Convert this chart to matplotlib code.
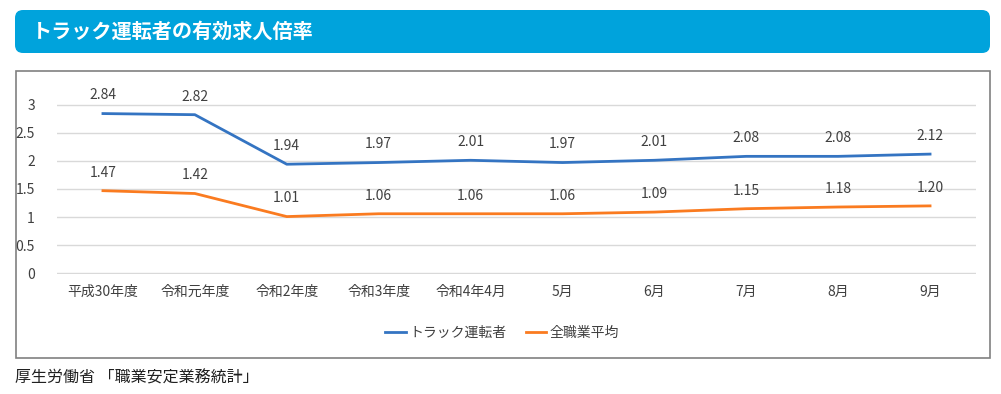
import matplotlib
matplotlib.use('Agg')
import matplotlib.pyplot as plt
from matplotlib.patches import FancyBboxPatch, Rectangle

plt.rcParams['font.family'] = ['Noto Sans CJK JP', 'DejaVu Sans']

# data
categories = ['平成30年度', '令和元年度', '令和2年度', '令和3年度', '令和4年4月',
              '5月', '6月', '7月', '8月', '9月']
truck = [2.84, 2.82, 1.94, 1.97, 2.01, 1.97, 2.01, 2.08, 2.08, 2.12]
all_jobs = [1.47, 1.42, 1.01, 1.06, 1.06, 1.06, 1.09, 1.15, 1.18, 1.20]
yticks = [0, 0.5, 1, 1.5, 2, 2.5, 3]
ytick_labels = ['0', '0.5', '1', '1.5', '2', '2.5', '3']

W, H = 1001, 394
fig = plt.figure(figsize=(W/100, H/100), dpi=100)

# title banner
banner = FancyBboxPatch((15/W, 1-53/H), 975/W, 43/H,
                        boxstyle='round,pad=0,rounding_size=0.008',
                        transform=fig.transFigure, facecolor='#00A3DC',
                        edgecolor='none', mutation_aspect=W/H, zorder=-1)
fig.patches.append(banner)
fig.text(32/W, 1-31/H, 'トラック運転者の有効求人倍率', color='white',
         fontsize=14.5, fontweight='bold', va='center', ha='left')

# chart frame (half-pixel offsets keep the 1px border crisp)
frame = Rectangle((15.5/W, 1-357.5/H), 974/W, 287/H, transform=fig.transFigure,
                  facecolor='none', edgecolor='#808080', linewidth=1.2, zorder=-1)
fig.patches.append(frame)

ax = fig.add_axes([57/W, 1-274/H, 919/W, 170/H])
x = range(len(categories))
ax.plot(x, truck, color='#3474C2', linewidth=2, label='トラック運転者')
ax.plot(x, all_jobs, color='#FA7B20', linewidth=2, label='全職業平均')

for i, v in enumerate(truck):
    ax.annotate('%.2f' % v, (i, v), xytext=(0, 8), textcoords='offset points',
                ha='center', va='bottom', fontsize=10, color='#404040', annotation_clip=False)
for i, v in enumerate(all_jobs):
    ax.annotate('%.2f' % v, (i, v), xytext=(0, 8), textcoords='offset points',
                ha='center', va='bottom', fontsize=10, color='#404040', annotation_clip=False)

ax.set_xlim(-0.5, len(categories)-0.5)
ax.set_ylim(-0.01, 3.01)
ax.set_yticks(yticks)
ax.set_yticklabels(ytick_labels)
ax.set_xticks(list(x))
ax.set_xticklabels(categories)
ax.tick_params(axis='both', length=0, labelsize=10, colors='#404040')
ax.tick_params(axis='x', pad=8)
ax.tick_params(axis='y', pad=16)
ax.grid(axis='y', color='#D9D9D9', linewidth=1)
ax.set_axisbelow(True)
for s in ax.spines.values():
    s.set_visible(False)
ax.patch.set_alpha(0)

leg = fig.legend(loc='center', bbox_to_anchor=(502/W, 1-333/H), ncol=2, frameon=False,
                 fontsize=10, handlelength=1.5, handletextpad=0.2, columnspacing=1.4)
for t in leg.get_texts():
    t.set_color('#404040')

fig.text(15/W, 1-378/H, '厚生労働省 「職業安定業務統計」', fontsize=11.5,
         color='#202020', va='center', ha='left')

fig.savefig('out.png', dpi=100)
